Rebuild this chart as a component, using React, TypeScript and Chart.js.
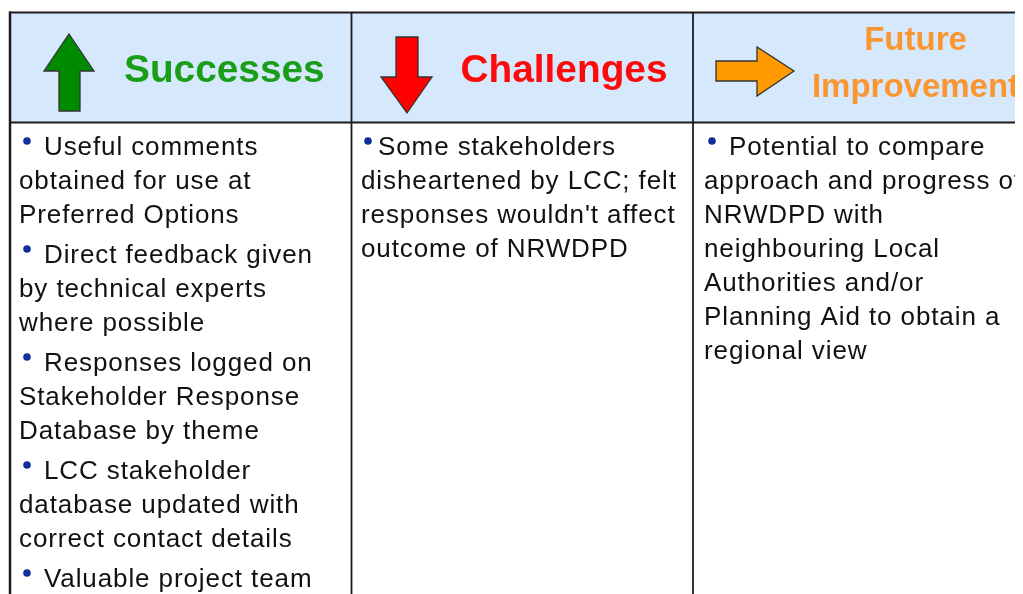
import React, { useEffect, useRef } from "react";
import { Chart, registerables } from "chart.js";

Chart.register(...registerables);

const categories = ["Successes", "Challenges", "Future Improvement"];
const headerLines = [["Successes"], ["Challenges"], ["Future", "Improvement"]];
const arrowDirections = ["up", "down", "right"];

const successes = [
  ["Useful comments", "obtained for use at", "Preferred Options"],
  ["Direct feedback given", "by technical experts", "where possible"],
  ["Responses logged on", "Stakeholder Response", "Database by theme"],
  ["LCC stakeholder", "database updated with", "correct contact details"],
  ["Valuable project team", "experience gained"],
];
const challenges = [
  ["Some stakeholders", "disheartened by LCC; felt", "responses wouldn't affect", "outcome of NRWDPD"],
];
const improvements = [
  [
    "Potential to compare",
    "approach and progress of",
    "NRWDPD with",
    "neighbouring Local",
    "Authorities and/or",
    "Planning Aid to obtain a",
    "regional view",
  ],
];
const columnItems = [successes, challenges, improvements];

const HEADER_COLORS = ["#1a9e1a", "#ff0a0a", "#fa9632"];
const ARROW_COLORS = ["#008a00", "#ff0000", "#ff9900"];

function arrowPoints(dir: string): number[][] {
  if (dir === "up")
    return [
      [59, 21.5], [84, 58.5], [70, 58.5], [70, 98.5], [49, 98.5], [49, 58.5], [34, 58.5],
    ];
  if (dir === "down")
    return [
      [44.5, 24.5], [66.5, 24.5], [66.5, 64.5], [80.5, 64.5], [55.5, 100.5], [29.5, 64.5], [44.5, 64.5],
    ];
  return [
    [23, 48.5], [64, 48.5], [64, 34.5], [101, 58.5], [64, 83.5], [64, 68.5], [23, 68.5],
  ];
}

const tablePlugin = {
  id: "tablePlugin",
  afterDraw(chart: any) {
    const ctx = chart.ctx as CanvasRenderingContext2D;
    const x = chart.scales.x;
    const area = chart.chartArea;
    const n = categories.length;
    const colW = x.width / n;
    const T = area.top;
    const headerH = 110;
    const bottom = chart.height + 10;
    const lineColor = "#1c1c1c";

    ctx.save();
    ctx.fillStyle = "#d6e9fc";
    ctx.fillRect(x.left, T, x.width, headerH);

    for (let i = 0; i < n; i++) {
      const L = x.getPixelForValue(i) - colW / 2;
      const pts = arrowPoints(arrowDirections[i]);
      ctx.beginPath();
      pts.forEach((p, k) => {
        const px = L + p[0];
        const py = T + p[1];
        if (k === 0) ctx.moveTo(px, py);
        else ctx.lineTo(px, py);
      });
      ctx.closePath();
      ctx.fillStyle = ARROW_COLORS[i];
      ctx.fill();
      ctx.lineWidth = 1.3;
      ctx.strokeStyle = "#333333";
      ctx.stroke();

      ctx.fillStyle = HEADER_COLORS[i];
      ctx.textBaseline = "alphabetic";
      const hl = headerLines[i];
      if (hl.length === 1) {
        ctx.font = "bold 38.8px 'Liberation Sans', Arial, sans-serif";
        ctx.textAlign = "left";
        ctx.fillText(hl[0], L + (i === 0 ? 114 : 109), T + 69.5);
      } else {
        ctx.font = "bold 33px 'Liberation Sans', Arial, sans-serif";
        ctx.textAlign = "center";
        ctx.fillText(hl[0], L + 222.5, T + 37);
        ctx.fillText(hl[1], L + 222.5, T + 84);
      }

      const firstIndent = [34, 26.5, 36][i];
      const contIndent = [9, 9.5, 11][i];
      const bulletX = [17, 16.5, 19][i];
      ctx.font = "26px 'Liberation Sans', Arial, sans-serif";
      (ctx as any).letterSpacing = "0.9px";
      ctx.textAlign = "left";
      let y = T + 142.5;
      columnItems[i].forEach((para) => {
        ctx.fillStyle = "#12309a";
        ctx.beginPath();
        ctx.arc(L + bulletX, y - 14, 3.8, 0, Math.PI * 2);
        ctx.fill();
        ctx.fillStyle = "#111111";
        para.forEach((line, li) => {
          ctx.fillText(line, L + (li === 0 ? firstIndent : contIndent), y);
          y += 34;
        });
        y += 6;
      });
      (ctx as any).letterSpacing = "0px";
    }

    ctx.strokeStyle = lineColor;
    ctx.lineWidth = 2;
    ctx.beginPath();
    ctx.moveTo(x.left - 1, T);
    ctx.lineTo(x.right + 10, T);
    ctx.moveTo(x.left, T + headerH);
    ctx.lineTo(x.right + 10, T + headerH);
    ctx.stroke();
    ctx.lineWidth = 2.5;
    ctx.beginPath();
    ctx.moveTo(x.left, T - 1);
    ctx.lineTo(x.left, bottom);
    ctx.stroke();
    ctx.lineWidth = 1.8;
    for (let i = 1; i <= n; i++) {
      const bx = x.left + colW * i;
      ctx.beginPath();
      ctx.moveTo(bx, T);
      ctx.lineTo(bx, bottom);
      ctx.stroke();
    }
    ctx.restore();
  },
};

export default function App() {
  const ref = useRef<HTMLCanvasElement>(null);
  useEffect(() => {
    document.body.style.overflow = "hidden";
    const canvas = ref.current!;
    const chart = new Chart(canvas, {
      type: "bar",
      data: {
        labels: categories,
        datasets: [{ data: columnItems.map((c) => c.length), backgroundColor: "rgba(0,0,0,0)" }],
      },
      options: {
        responsive: false,
        animation: false,
        devicePixelRatio: 1,
        layout: { padding: { left: 2, right: 8.5, top: 4.5, bottom: 0 } },
        plugins: { legend: { display: false }, tooltip: { enabled: false } },
        scales: {
          x: { display: false, offset: true },
          y: { display: false, min: 0, max: 10 },
        },
      },
      plugins: [tablePlugin],
    });
    return () => chart.destroy();
  }, []);
  return (
    <div style={{ width: 1015, height: 586, overflow: "hidden" }}>
      <canvas ref={ref} width={1035} height={586} style={{ display: "block" }} />
    </div>
  );
}
